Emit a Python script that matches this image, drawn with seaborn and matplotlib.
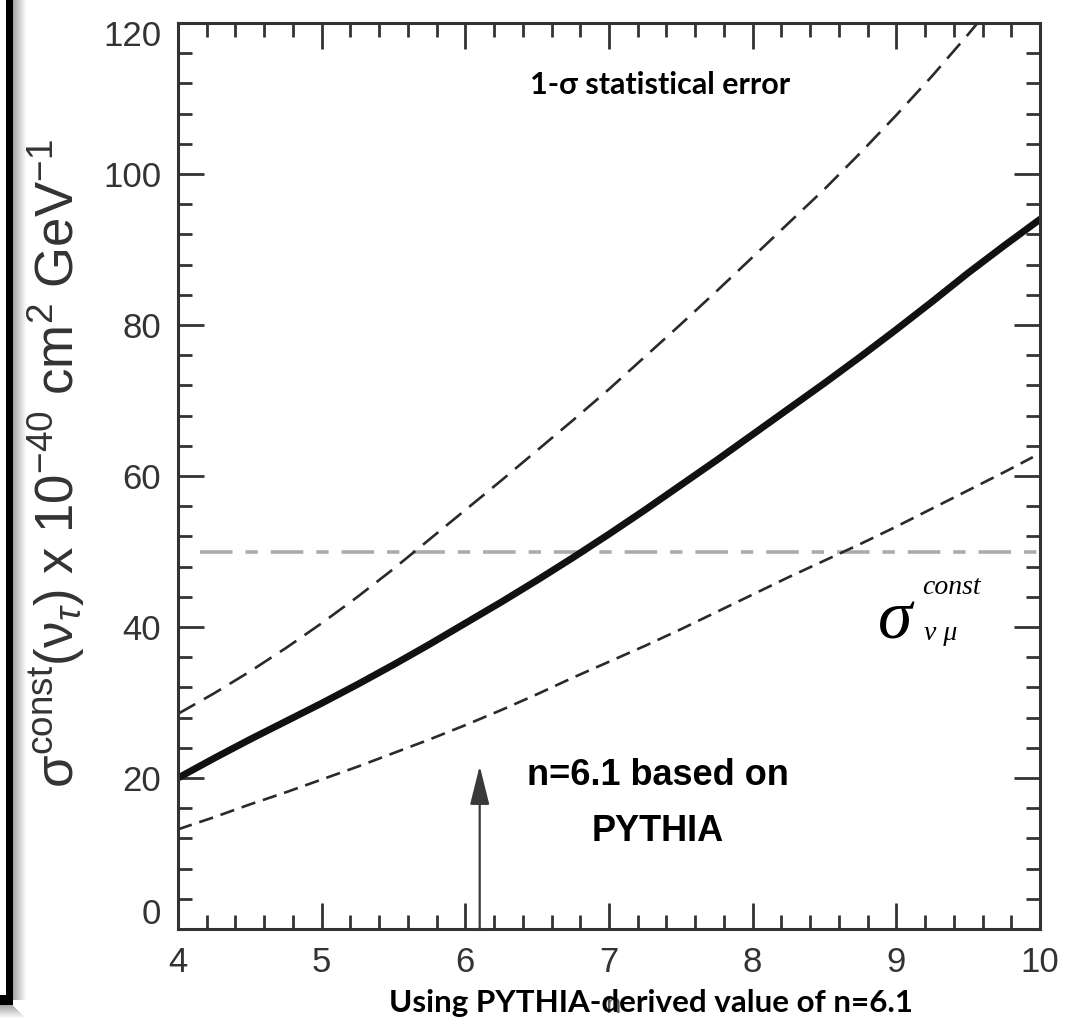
import numpy as np
import pandas as pd
import matplotlib
matplotlib.use("Agg")
import matplotlib.pyplot as plt
from matplotlib.ticker import MultipleLocator
from matplotlib.patches import Rectangle
from matplotlib.transforms import ScaledTranslation
import seaborn as sns

# ---- data -----------------------------------------------------------------
n_values = [4.0, 4.25, 4.5, 4.75, 5.0, 5.25, 5.5, 5.75, 6.0, 6.25, 6.5, 6.75,
            7.0, 7.25, 7.5, 7.75, 8.0, 8.25, 8.5, 8.75, 9.0, 9.25, 9.5, 9.75, 10.0]
sigma_central = [20.0, 22.6, 25.1, 27.5, 29.9, 32.4, 35.0, 37.7, 40.5, 43.3,
                 46.2, 49.2, 52.3, 55.5, 58.8, 62.1, 65.5, 68.9, 72.3, 75.8,
                 79.4, 83.1, 86.9, 90.5, 94.0]
n_upper = [4.0, 4.25, 4.5, 4.75, 5.0, 5.25, 5.5, 5.75, 6.0, 6.25, 6.5, 6.75,
           7.0, 7.25, 7.5, 7.75, 8.0, 8.25, 8.5, 8.75, 9.0, 9.25, 9.5, 9.6]
sigma_upper = [28.5, 31.2, 34.1, 37.2, 40.5, 44.0, 47.7, 51.6, 55.5, 59.4,
               63.4, 67.4, 71.5, 75.8, 80.1, 84.5, 89.0, 93.5, 98.0, 102.8,
               107.8, 113.0, 118.5, 120.8]
n_lower = [4.0, 4.25, 4.5, 4.75, 5.0, 5.25, 5.5, 5.75, 6.0, 6.25, 6.5, 6.75,
           7.0, 7.25, 7.5, 7.75, 8.0, 8.25, 8.5, 8.75, 9.0, 9.25, 9.5, 9.75, 9.95]
sigma_lower = [13.2, 14.8, 16.5, 18.1, 19.8, 21.5, 23.3, 25.1, 27.0, 29.0,
               31.1, 33.3, 35.4, 37.5, 39.7, 42.0, 44.3, 46.6, 48.8, 51.0,
               53.3, 55.7, 58.1, 60.5, 62.5]
numu_const_n = [4.15, 10.0]
numu_const_sigma = [50.0, 50.0]
pythia_n = 6.1
pythia_arrow_top = 21.6
x_ticks = [4, 5, 6, 7, 8, 9, 10]
y_ticks = [0, 20, 40, 60, 80, 100, 120]

W, H = 1067, 1021
sns.set_theme(style="ticks")
plt.rcParams["font.family"] = ["Liberation Sans", "DejaVu Sans"]
plt.rcParams["mathtext.fontset"] = "custom"
plt.rcParams["mathtext.rm"] = "Liberation Sans"
plt.rcParams["mathtext.it"] = "Liberation Sans:italic"
plt.rcParams["mathtext.bf"] = "Liberation Sans:bold"

fig = plt.figure(figsize=(W / 100, H / 100), dpi=100)
fig.patch.set_facecolor("white")
ax = fig.add_axes([178 / W, 1 - 929 / H, (1040 - 178) / W, (929 - 23) / H])
ax.set_facecolor("white")

axis_col = "#333333"

central = pd.DataFrame({"n": n_values, "sigma": sigma_central})
lower = pd.DataFrame({"n": n_lower, "sigma": sigma_lower})
upper = pd.DataFrame({"n": n_upper, "sigma": sigma_upper})
numu = pd.DataFrame({"n": numu_const_n, "sigma": numu_const_sigma})

sns.lineplot(data=numu, x="n", y="sigma", ax=ax, color="#ababab", lw=2.6,
             estimator=None, sort=False)
ax.lines[-1].set_dashes((9.0, 3.6, 3.4, 3.6))
sns.lineplot(data=upper, x="n", y="sigma", ax=ax, color="#2a2a2a", lw=1.9,
             estimator=None, sort=False)
ax.lines[-1].set_dashes((7.5, 3.8))
sns.lineplot(data=lower, x="n", y="sigma", ax=ax, color="#2a2a2a", lw=1.9,
             estimator=None, sort=False)
ax.lines[-1].set_dashes((5.5, 3.0))
sns.lineplot(data=central, x="n", y="sigma", ax=ax, color="#111111", lw=5.0,
             estimator=None, sort=False)

# arrow marking n = 6.1
ax.annotate("", xy=(pythia_n, pythia_arrow_top), xytext=(pythia_n, 0),
            arrowprops=dict(arrowstyle="-|>,head_length=1.2,head_width=0.3",
                            mutation_scale=20, lw=1.6, color="#3a3a3a",
                            shrinkA=0, shrinkB=0))

ax.set_xlim(4, 10)
ax.set_ylim(0, 120)
ax.set_xticks(x_ticks)
ax.set_yticks(y_ticks)
ax.xaxis.set_minor_locator(MultipleLocator(0.2))
ax.yaxis.set_minor_locator(MultipleLocator(4))
ax.tick_params(which="both", direction="in", top=True, right=True,
               color=axis_col, width=2.0)
ax.tick_params(which="major", length=19, labelsize=25, labelcolor=axis_col, pad=12)
ax.tick_params(which="minor", length=10)
for s in ax.spines.values():
    s.set_color(axis_col)
    s.set_linewidth(2.2)
ax.set_xlabel("")

# the lowest and highest y labels sit slightly inside the frame
ylabels = ax.get_yticklabels()
ylabels[0].set_transform(ylabels[0].get_transform()
                         + ScaledTranslation(0, 0.18, fig.dpi_scale_trans))
ylabels[-1].set_transform(ylabels[-1].get_transform()
                          + ScaledTranslation(0, -0.10, fig.dpi_scale_trans))

ax.set_ylabel(r"σ$^{\mathrm{const}}$(ν$_{τ}$) x 10$^{-40}$ cm$^{2}$ GeV$^{-1}$",
              fontsize=38, color=axis_col, va="center")
ax.yaxis.set_label_coords((56 - 178) / 862, (929 - 463) / 906)

# annotations inside the frame
ax.text(0.559, 0.9315, "1-σ statistical error", transform=ax.transAxes,
        ha="center", va="center", fontsize=22, fontweight="bold",
        family=["Lato", "DejaVu Sans"], color="black")
ax.text(0.557, (929 - 775) / 906, "n=6.1 based on", transform=ax.transAxes,
        ha="center", va="center", fontsize=26, fontweight="bold", color="black")
ax.text(0.557, (929 - 831) / 906, "PYTHIA", transform=ax.transAxes,
        ha="center", va="center", fontsize=26, fontweight="bold", color="black")
ax.text(895 / W, 1 - 622 / H, "σ", transform=fig.transFigure, ha="center",
        va="center", fontsize=50, fontstyle="italic", family="Liberation Serif",
        color="black")
ax.text(951 / W, 1 - 587 / H, "const", transform=fig.transFigure, ha="center",
        va="center", fontsize=20, fontstyle="italic", family="Liberation Serif",
        color="black")
ax.text(941 / W, 1 - 634 / H, "ν μ", transform=fig.transFigure, ha="center",
        va="center", fontsize=20, fontstyle="italic", family="Liberation Serif",
        color="black")

# axis variable name beneath the caption
fig.text(613 / W, 1 - 1013 / H, "n", ha="center", va="baseline", fontsize=20,
         color="#555555")
fig.text(651 / W, 1 - 1003 / H, "Using PYTHIA-derived value of n=6.1",
         ha="center", va="center", fontsize=22.6, fontweight="bold",
         family=["Lato", "DejaVu Sans"], color="black")

# frame edge at the left with a soft shadow
for i, a in enumerate(np.linspace(0.35, 0.0, 14)):
    fig.add_artist(Rectangle(((13 + i) / W, 1 - 1000 / H), 1 / W, 1000 / H,
                             transform=fig.transFigure, color="black",
                             alpha=a, lw=0))
    fig.add_artist(Rectangle((0, 1 - (1006 + i) / H), (13 + i) / W, 1 / H,
                             transform=fig.transFigure, color="black",
                             alpha=a, lw=0))
fig.add_artist(Rectangle((6 / W, 1 - 1005 / H), 7 / W, 1005 / H,
                         transform=fig.transFigure, color="black", lw=0))
fig.add_artist(Rectangle((0, 1 - 1005 / H), 13 / W, 10 / H,
                         transform=fig.transFigure, color="black", lw=0))

fig.savefig("out.png", dpi=100, facecolor="white")
